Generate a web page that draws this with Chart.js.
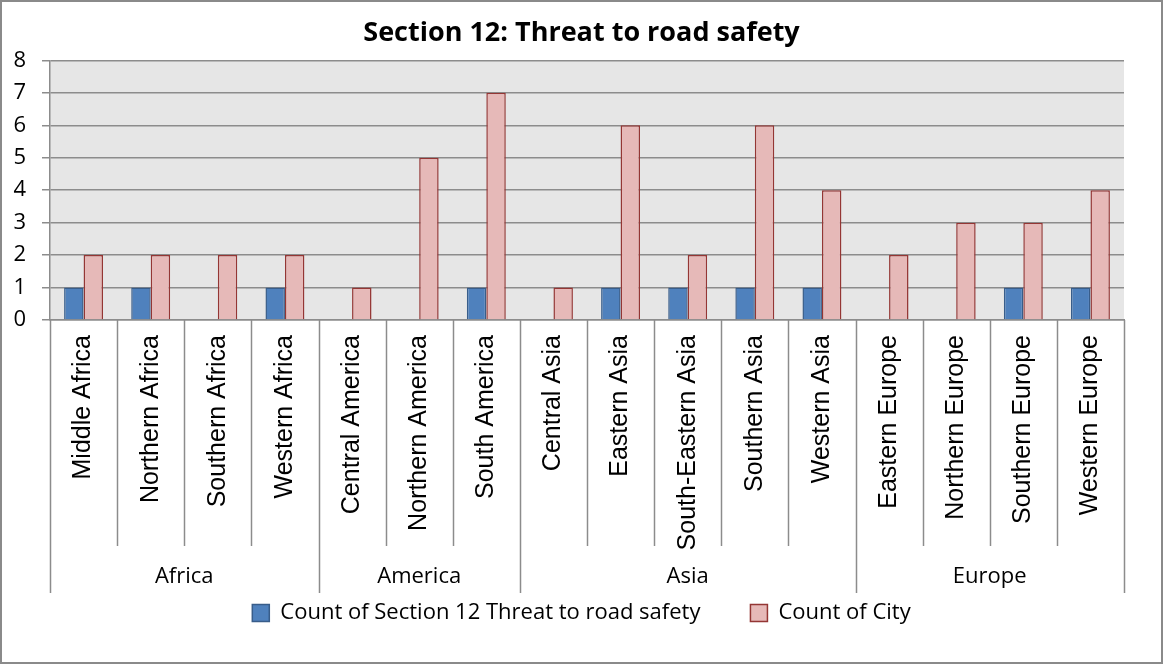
<!DOCTYPE html>
<html>
<head>
<meta charset="utf-8">
<script src="https://cdn.jsdelivr.net/npm/chart.js@4.4.1/dist/chart.umd.min.js"></script>
<style>
  html, body { margin: 0; padding: 0; background: #fff; }
  #wrap { width: 1163px; height: 664px; }
</style>
</head>
<body>
<div id="wrap"><canvas id="roadSafetyChart" width="1163" height="664"></canvas></div>
<script>
const regions = [
  'Middle Africa', 'Northern Africa', 'Southern Africa', 'Western Africa',
  'Central America', 'Northern America', 'South America',
  'Central Asia', 'Eastern Asia', 'South-Eastern Asia', 'Southern Asia', 'Western Asia',
  'Eastern Europe', 'Northern Europe', 'Southern Europe', 'Western Europe'
];
const continents = ['Africa', 'America', 'Asia', 'Europe'];
const continentSizes = [4, 3, 5, 4];
const threatCounts = [1, 1, null, 1, null, null, 1, null, 1, 1, 1, 1, null, null, 1, 1];
const cityCounts = [2, 2, 2, 2, 1, 5, 7, 1, 6, 2, 6, 4, 2, 3, 3, 4];
const yTicks = [0, 1, 2, 3, 4, 5, 6, 7, 8];

const FONT = '"Open Sans"';
const LABEL_FONT = '"Liberation Sans"';
const LINE = '#8c8c8c';

// distance from the x axis down to the bottom of the separators
const SHORT_SEP = 226;
const LONG_SEP = 273;

// white page, outer frame and grey plot background
const frame = {
  id: 'frame',
  beforeDraw(chart) {
    const { ctx, chartArea: a } = chart;
    ctx.save();
    ctx.fillStyle = '#fff';
    ctx.fillRect(0, 0, chart.width, chart.height);
    ctx.fillStyle = '#e6e6e6';
    ctx.fillRect(a.left, a.top, a.right - a.left, a.bottom - a.top);
    ctx.strokeStyle = '#8a8a8a';
    ctx.lineWidth = 2;
    ctx.strokeRect(1, 1, chart.width - 2, chart.height - 2);
    ctx.restore();
  }
};

// category separators below the axis and the continent row
const groupAxis = {
  id: 'groupAxis',
  afterDraw(chart) {
    const { ctx } = chart;
    const xs = chart.scales.x;
    const step = xs.getPixelForValue(1) - xs.getPixelForValue(0);
    const edge = i => xs.getPixelForValue(i) - step / 2;
    const top = xs.top;
    const groupEnds = [0];
    continentSizes.forEach(n => groupEnds.push(groupEnds[groupEnds.length - 1] + n));
    ctx.save();
    ctx.strokeStyle = LINE;
    ctx.lineWidth = 1.5;
    for (let i = 0; i <= regions.length; i++) {
      const x = Math.round(edge(i)) + 0.5;
      const long = groupEnds.includes(i);
      ctx.beginPath();
      ctx.moveTo(x, top);
      ctx.lineTo(x, top + (long ? LONG_SEP : SHORT_SEP));
      ctx.stroke();
    }
    ctx.fillStyle = '#000';
    ctx.font = '22px ' + FONT;
    ctx.textAlign = 'center';
    ctx.textBaseline = 'middle';
    continents.forEach((name, k) => {
      const cx = (edge(groupEnds[k]) + edge(groupEnds[k + 1])) / 2;
      ctx.fillText(name, cx, top + 257);
    });
    ctx.restore();
  }
};

new Chart(document.getElementById('roadSafetyChart'), {
  type: 'bar',
  data: {
    labels: regions,
    datasets: [{
      label: 'Count of Section 12 Threat to road safety',
      data: threatCounts,
      backgroundColor: '#4f81bd',
      borderColor: '#385d8a',
      borderWidth: 1.5
    }, {
      label: 'Count of City',
      data: cityCounts,
      backgroundColor: '#e6b9b8',
      borderColor: '#943634',
      borderWidth: 1.5
    }]
  },
  options: {
    responsive: false,
    animation: false,
    layout: { padding: { top: 17, right: 0, bottom: 30, left: 0 } },
    datasets: { bar: { categoryPercentage: 0.58, barPercentage: 1 } },
    scales: {
      x: {
        // legend sits over the lower part of the separators
        afterFit: s => { s.height = 232; },
        grid: { display: false },
        border: { display: true, color: LINE, width: 1.5 },
        ticks: {
          color: '#000',
          font: { family: LABEL_FONT, size: 25 },
          minRotation: 90,
          maxRotation: 90,
          padding: 7,
          autoSkip: false
        }
      },
      y: {
        min: 0,
        max: 8,
        afterFit: s => { s.width = 50; },
        afterBuildTicks: s => { s.ticks = yTicks.map(v => ({ value: v })); },
        grid: { color: LINE, lineWidth: 1.5, tickLength: 8 },
        border: { display: true, color: LINE, width: 1.5 },
        ticks: {
          color: '#000',
          font: { family: FONT, size: 22 },
          padding: 16
        }
      },
      // empty right margin so the title and legend centre on the page
      gap: {
        position: 'right',
        afterFit: s => { s.width = 39; },
        grid: { display: false },
        border: { display: false },
        ticks: { display: false }
      }
    },
    plugins: {
      title: {
        display: true,
        text: 'Section 12: Threat to road safety',
        color: '#000',
        font: { family: FONT, size: 27, weight: 'bold' },
        padding: { top: 0, bottom: 11 }
      },
      legend: {
        position: 'bottom',
        labels: {
          color: '#000',
          font: { family: FONT, size: 22 },
          boxWidth: 17,
          boxHeight: 17,
          padding: 50
        }
      },
      tooltip: { enabled: false }
    }
  },
  plugins: [frame, groupAxis]
});
</script>
</body>
</html>
